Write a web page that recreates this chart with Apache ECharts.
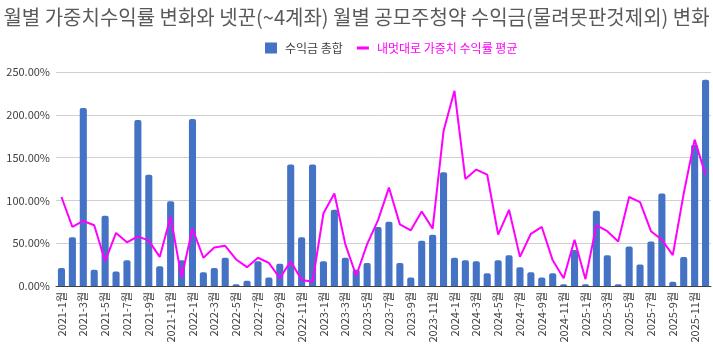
<!DOCTYPE html>
<html>
<head>
<meta charset="utf-8">
<script src="https://cdn.jsdelivr.net/npm/echarts@6/dist/echarts.min.js"></script>
<style>
  html, body { margin: 0; padding: 0; background: #fff; }
  #chart { width: 713px; height: 351px; }
</style>
</head>
<body>
<div id="chart"></div>
<script>
  // 2021-1월 ~ 2025-12월
  const months = []
  for (let y = 2021; y <= 2025; y++) {
    for (let m = 1; m <= 12; m++) months.push(y + '-' + m + '월')
  }

  // 수익금 총합 (%)
  const profitTotal = [
    21, 57, 208, 19, 82, 17, 30, 194, 130, 23, 99, 30,
    195, 16, 21, 33, 2, 6, 29, 10, 26, 142, 57, 142,
    29, 89, 33, 19, 27, 69, 75, 27, 10, 53, 60, 133,
    33, 30, 29, 15, 30, 36, 22, 16, 10, 15, 2, 42,
    2, 88, 36, 2, 46, 25, 52, 108, 5, 34, 165, 241
  ]

  // 내멋대로 가중치 수익률 평균 (%)
  const weightedAvg = [
    104, 69, 76, 71, 29, 62, 51, 58, 53, 34, 81, 10,
    67, 33, 45, 47, 31, 22, 33, 27, 9, 29, 7, 5,
    85, 108, 49, 12, 49, 77, 115, 72, 65, 87, 67, 181,
    228, 125, 136, 130, 60, 89, 34, 61, 69, 30, 9, 54,
    8, 71, 64, 52, 104, 98, 64, 54, 36, 108, 171, 130
  ]

  const chart = echarts.init(document.getElementById('chart'))
  const font = '"Noto Sans CJK KR", "Noto Sans", sans-serif'

  chart.setOption({
    animation: false,
    textStyle: { fontFamily: font },
    title: {
      text: '월별 가중치수익률 변화와 넷꾼(~4계좌) 월별 공모주청약 수익금(물려못판것제외) 변화',
      left: 'center',
      top: 2,
      textStyle: { fontSize: 20, fontWeight: 'normal', color: '#595959', fontFamily: font }
    },
    legend: {
      top: 37,
      left: 260,
      itemGap: 14,
      itemWidth: 12,
      itemHeight: 11,
      textStyle: { fontSize: 12, color: '#404040', padding: [0, 0, 0, 3] },
      data: [
        { name: '수익금 총합', icon: 'rect', itemStyle: { color: '#4472C4' } },
        {
          name: '내멋대로 가중치 수익률 평균',
          icon: 'path://M0,0h12v3h-12z',
          itemStyle: { color: '#FF00FF' },
          textStyle: { color: '#FF00FF' }
        }
      ]
    },
    grid: { left: 56, right: 2, top: 72, bottom: 65 },
    xAxis: {
      type: 'category',
      data: months,
      axisLine: { lineStyle: { color: '#404040' } },
      axisTick: { show: false },
      axisLabel: {
        interval: 1,
        rotate: 90,
        fontSize: 11,
        color: '#404040',
        margin: 6
      }
    },
    yAxis: {
      type: 'value',
      min: 0,
      max: 250,
      interval: 50,
      axisLine: { show: false },
      axisTick: { show: false },
      axisLabel: {
        fontSize: 11,
        color: '#404040',
        margin: 6,
        formatter: v => v.toFixed(2) + '%'
      },
      splitLine: { lineStyle: { color: '#D0D0D0' } }
    },
    series: [
      {
        name: '수익금 총합',
        type: 'bar',
        data: profitTotal,
        barCategoryGap: '35%',
        itemStyle: { color: '#4472C4', borderRadius: [2, 2, 0, 0] }
      },
      {
        name: '내멋대로 가중치 수익률 평균',
        type: 'line',
        data: weightedAvg,
        symbol: 'none',
        lineStyle: { color: '#FF00FF', width: 2 },
        itemStyle: { color: '#FF00FF' }
      }
    ]
  })
</script>
</body>
</html>
